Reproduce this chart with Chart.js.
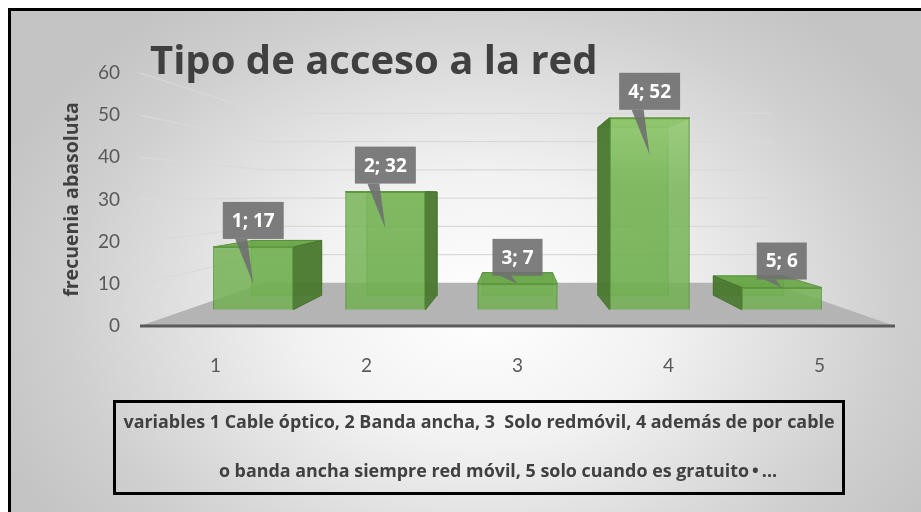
<!DOCTYPE html>
<html lang="es">
  <head>
    <title>Tipo de acceso a la red</title>
    <meta charset="UTF-8" />
    <style>
      html,
      body {
        margin: 0;
        padding: 0;
        background: #fff;
      }
      body {
        position: relative;
        width: 921px;
        height: 512px;
        overflow: hidden;
        font-family: Lato, "Open Sans", sans-serif;
      }
      .frame {
        position: absolute;
        left: 8px;
        top: 8px;
        width: 940px;
        height: 540px;
        border-left: 3px solid #000;
        border-top: 3px solid #000;
        background: radial-gradient(
          ellipse 55% 70% at 50% 55%,
          #ffffff 0%,
          #f2f2f2 35%,
          #cfcfcf 80%,
          #c4c4c4 100%
        );
      }
      #grafico {
        position: absolute;
        left: 0;
        top: 0;
      }
      .nota {
        position: absolute;
        left: 113px;
        top: 400px;
        width: 732px;
        height: 95px;
        box-sizing: border-box;
        border: 3px solid #000;
      }
      .nota div {
        position: absolute;
        left: 0;
        right: 0;
        text-align: center;
        font-family: "Open Sans", Lato, sans-serif;
        font-weight: bold;
        font-size: 17.9px;
        line-height: 20px;
        color: #404040;
        white-space: pre;
      }
    </style>
  </head>
  <body>
    <div class="frame"></div>
    <canvas id="grafico" width="921" height="512"></canvas>
    <div class="nota">
      <div id="linea1" style="top: 8px"></div>
      <div id="linea2" style="top: 57px; left: 38px"></div>
    </div>

    <script src="https://cdn.jsdelivr.net/npm/chart.js"></script>
    <script>
      // datos del gráfico
      const titulo = "Tipo de acceso a la red";
      const tituloEjeY = "frecuenia abasoluta";
      const categorias = ["1", "2", "3", "4", "5"];
      const frecuencia = [17, 32, 7, 52, 6];
      const ticksY = [0, 10, 20, 30, 40, 50, 60];
      const nota = [
        "variables 1 Cable óptico, 2 Banda ancha, 3  Solo redmóvil, 4 además de por cable",
        "o banda ancha siempre red móvil, 5 solo cuando es gratuito\u2009•\u2009...",
      ];

      document.getElementById("linea1").textContent = nota[0];
      document.getElementById("linea2").textContent = nota[1];

      const FUENTE = 'Lato, "Open Sans", sans-serif';
      const FUENTE_NEGRITA = '"Open Sans", Lato, sans-serif';
      const GRIS = "#595959";

      // perspectiva "3D" tipo Excel
      const VALOR_FUGA = 31; // altura del punto de fuga, en unidades del eje
      const FRENTE_BARRA = 0.125; // cuanto se mete el frente de la barra hacia el fondo
      const FONDO_BARRA = 0.126; // profundidad de cada barra
      const FONDO_PISO = 0.33; // pared del fondo

      const yMax = ticksY[ticksY.length - 1];
      const esc = 1 - FRENTE_BARRA;
      const centro = (categorias.length + 1) / 2;

      function puntoFuga(chart) {
        const a = chart.chartArea;
        return [(a.left + a.right) / 2, chart.scales.y.getPixelForValue(VALOR_FUGA)];
      }

      function hacia(p, vp, k) {
        return [p[0] + k * (vp[0] - p[0]), p[1] + k * (vp[1] - p[1])];
      }

      function poligono(ctx, pts, relleno, borde) {
        ctx.beginPath();
        ctx.moveTo(pts[0][0], pts[0][1]);
        for (let i = 1; i < pts.length; i++) ctx.lineTo(pts[i][0], pts[i][1]);
        ctx.closePath();
        if (relleno) {
          ctx.fillStyle = relleno;
          ctx.fill();
        }
        if (borde) {
          ctx.strokeStyle = borde;
          ctx.lineWidth = 1;
          ctx.stroke();
        }
      }

      // verde del frente: más claro arriba, como la luz del 3D de Excel
      function verdeFrente(c) {
        const a = c.chart.chartArea;
        if (!a) return "rgba(118,182,84,0.85)";
        const g = c.chart.ctx.createLinearGradient(0, a.top, 0, a.bottom);
        g.addColorStop(0, "rgba(165,215,130,0.9)");
        g.addColorStop(0.45, "rgba(122,183,90,0.86)");
        g.addColorStop(1, "rgba(112,175,80,0.85)");
        return g;
      }

      const perspectiva = {
        id: "perspectiva",
        beforeDatasetsDraw(chart) {
          const { ctx, chartArea: a } = chart;
          const y = chart.scales.y;
          const vp = puntoFuga(chart);
          ctx.save();

          // líneas de la cuadrícula en la pared izquierda y del fondo
          ctx.strokeStyle = "#d9d9d9";
          ctx.lineWidth = 1.3;
          ticksY.forEach((v) => {
            if (v === 0) return;
            const py = y.getPixelForValue(v);
            const p1 = [a.left, py];
            const p2 = hacia(p1, vp, FONDO_PISO);
            const p3 = hacia([a.right, py], vp, FONDO_PISO);
            ctx.beginPath();
            ctx.moveTo(p1[0], p1[1]);
            ctx.lineTo(p2[0], p2[1]);
            ctx.lineTo(p3[0], p3[1]);
            ctx.stroke();
          });

          // piso
          const y0 = y.getPixelForValue(0);
          poligono(
            ctx,
            [
              [a.left, y0],
              hacia([a.left, y0], vp, FONDO_PISO),
              hacia([a.right, y0], vp, FONDO_PISO),
              [a.right, y0],
            ],
            "#b4b4b4"
          );
          ctx.strokeStyle = "#5a5a5a";
          ctx.lineWidth = 3;
          ctx.beginPath();
          ctx.moveTo(a.left, y0);
          ctx.lineTo(a.right, y0);
          ctx.stroke();

          // caras de atrás, arriba y laterales de cada barra
          chart.getDatasetMeta(0).data.forEach((bar) => {
            const L = bar.x - bar.width / 2;
            const R = bar.x + bar.width / 2;
            const fTL = [L, bar.y], fTR = [R, bar.y], fBR = [R, bar.base], fBL = [L, bar.base];
            const bTL = hacia(fTL, vp, FONDO_BARRA);
            const bTR = hacia(fTR, vp, FONDO_BARRA);
            const bBR = hacia(fBR, vp, FONDO_BARRA);
            const bBL = hacia(fBL, vp, FONDO_BARRA);
            poligono(ctx, [bTL, bTR, bBR, bBL], "rgba(98,160,66,0.55)", "rgba(80,140,52,0.8)");
            poligono(ctx, [fTL, fTR, bTR, bTL], "rgba(104,166,72,0.92)", "rgba(80,140,52,0.8)");
            if (vp[0] > R) poligono(ctx, [fTR, bTR, bBR, fBR], "rgba(74,120,48,0.92)", "rgba(70,115,45,0.9)");
            if (vp[0] < L) poligono(ctx, [fTL, bTL, bBL, fBL], "rgba(74,120,48,0.92)", "rgba(70,115,45,0.9)");
          });
          ctx.restore();
        },
        afterDatasetsDraw(chart) {
          const ctx = chart.ctx;
          ctx.save();
          ctx.font = "bold 19px " + FUENTE_NEGRITA;
          chart.getDatasetMeta(0).data.forEach((bar, i) => {
            const texto = categorias[i] + "; " + frecuencia[i];
            const w = ctx.measureText(texto).width + 18;
            const h = 37;
            const abajo = bar.y - 8;
            const cx = bar.x;
            const punta = bar.y + Math.min(37, Math.max(0, bar.base - bar.y - 26));
            ctx.fillStyle = "rgba(112,112,112,0.9)";
            ctx.fillRect(cx - w / 2, abajo - h, w, h);
            ctx.beginPath();
            ctx.moveTo(cx - 18, abajo);
            ctx.lineTo(cx - 6, abajo);
            ctx.lineTo(cx, punta);
            ctx.closePath();
            ctx.fill();
            ctx.fillStyle = "#fff";
            ctx.textAlign = "center";
            ctx.textBaseline = "middle";
            ctx.fillText(texto, cx, abajo - h / 2 + 1);
          });
          ctx.restore();
        },
        afterDraw(chart) {
          const ctx = chart.ctx;
          ctx.save();
          ctx.font = "bold 40px " + FUENTE_NEGRITA;
          ctx.fillStyle = "#404040";
          ctx.textBaseline = "alphabetic";
          ctx.fillText(titulo, 150, 74);
          ctx.restore();
        },
      };

      Chart.defaults.font.family = FUENTE;

      new Chart(document.getElementById("grafico"), {
        type: "bar",
        data: {
          labels: categorias,
          datasets: [
            {
              label: tituloEjeY,
              data: frecuencia.map((v, i) => ({ x: Number(categorias[i]), y: v })),
              xAxisID: "xb",
              yAxisID: "yb",
              backgroundColor: verdeFrente,
              borderColor: "#5c9a3c",
              borderWidth: 1.5,
              categoryPercentage: 0.8,
              barPercentage: 0.76,
            },
          ],
        },
        options: {
          responsive: false,
          animation: false,
          devicePixelRatio: 1,
          layout: { padding: { left: 0, top: 73, right: 26, bottom: 126 } },
          plugins: {
            legend: { display: false },
            tooltip: { enabled: false },
          },
          scales: {
            x: {
              type: "category",
              position: "bottom",
              grid: { display: false, drawTicks: false },
              border: { display: false },
              ticks: { color: GRIS, font: { size: 19 }, padding: 28 },
              afterFit: (s) => {
                s.height = 60;
              },
            },
            y: {
              position: "left",
              min: 0,
              max: yMax,
              grid: { display: false, drawTicks: false },
              border: { display: false },
              ticks: { stepSize: 10, color: GRIS, font: { size: 19 }, padding: 20 },
              title: {
                display: true,
                text: tituloEjeY,
                color: "#404040",
                font: { family: FUENTE_NEGRITA, size: 19.5, weight: "bold" },
                padding: { top: 61, bottom: 0 },
              },
              afterFit: (s) => {
                s.width = 140;
              },
            },
            // ejes ocultos para las barras, que están un poco más al fondo
            xb: {
              type: "linear",
              display: false,
              offset: false,
              min: centro - (centro - 0.5) / esc,
              max: centro + (categorias.length + 0.5 - centro) / esc,
            },
            yb: {
              type: "linear",
              display: false,
              min: VALOR_FUGA - VALOR_FUGA / esc,
              max: VALOR_FUGA + (yMax - VALOR_FUGA) / esc,
            },
          },
        },
        plugins: [perspectiva],
      });
    </script>
  </body>
</html>
